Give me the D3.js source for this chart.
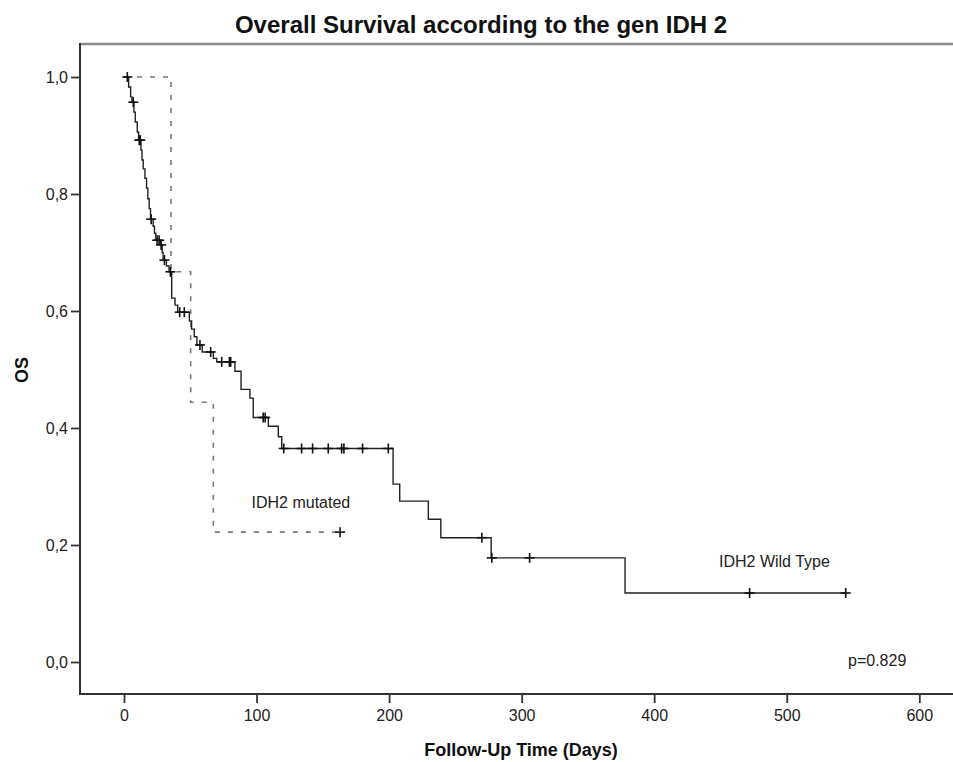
<!DOCTYPE html>
<html>
<head>
<meta charset="utf-8">
<script src="https://cdn.jsdelivr.net/npm/d3@7"></script>
<style>
  html, body { margin: 0; padding: 0; background: #fff; }
  svg { display: block; font-family: "Liberation Sans", Arial, sans-serif; }
</style>
</head>
<body>
<svg id="chart" width="953" height="762"></svg>
<script>
// ---- data ----
const xTicks = [0, 100, 200, 300, 400, 500, 600];
const yTicks = [0, 0.2, 0.4, 0.6, 0.8, 1.0];

// IDH2 Wild Type: step times (days) and survival after each step
const wtTimes = [0, 3.5, 5, 6, 7.5, 8.5, 10, 11, 12.8, 13.6, 14.5, 15.8, 17, 18, 19, 20,
  22, 23, 24, 27.5, 28.8, 29.5, 32, 34, 36, 38.5, 40.5, 49.3, 51, 53, 55, 59, 67.4, 70,
  83.7, 88.3, 95, 97.5, 108.9, 116.4, 119, 203, 208, 229.6, 239, 277, 378, 544.5];
const wtSurv = [1.0, 0.983, 0.966, 0.957, 0.94, 0.923, 0.906, 0.892, 0.875, 0.858, 0.843, 0.827, 0.81, 0.792, 0.775, 0.757,
  0.745, 0.733, 0.721, 0.713, 0.70, 0.687, 0.677, 0.667, 0.622, 0.610, 0.598, 0.583, 0.569, 0.556, 0.542, 0.530, 0.519, 0.513,
  0.497, 0.466, 0.451, 0.418, 0.403, 0.385, 0.365, 0.304, 0.275, 0.244, 0.2125, 0.178, 0.118, 0.118];
const wtCensored = [2.5, 7, 11.5, 12.3, 20.5, 25, 26.5, 28, 30.5, 35, 42, 45.5, 57.3, 65.4,
  73.7, 79.5, 80.5, 105, 106.5, 120.5, 134, 142.3, 154.1, 164.2, 165.9, 180, 199.4,
  270, 277.5, 306, 472, 544.5];

// IDH2 mutated
const mutTimes = [0, 35.5, 50.3, 67.4, 163];
const mutSurv = [1.0, 0.667, 0.444, 0.222, 0.222];
const mutCensored = [163];

const labels = { title: "Overall Survival according to the gen IDH 2",
  xTitle: "Follow-Up Time (Days)", yTitle: "OS",
  mut: "IDH2 mutated", wt: "IDH2 Wild Type", p: "p=0.829" };

// ---- drawing ----
const svg = d3.select("#chart");
const x = d3.scaleLinear().domain([0, 600]).range([124, 919.3]);
const y = d3.scaleLinear().domain([0, 1]).range([662, 77]);

const frameLeft = 80, frameTop = 44, frameBottom = 694, frameRight = 953;

// top frame line
svg.append("line").attr("x1", frameLeft).attr("x2", frameRight)
  .attr("y1", frameTop).attr("y2", frameTop)
  .attr("stroke", "#8a8a8a").attr("stroke-width", 2.5);

// axes
const yAxis = d3.axisLeft(y).tickValues(yTicks).tickSize(9).tickPadding(3)
  .tickFormat(d => d3.format(".1f")(d).replace(".", ","));
const gy = svg.append("g").attr("transform", `translate(${frameLeft},0)`).call(yAxis);
gy.select(".domain").remove();
gy.selectAll(".tick line").attr("stroke", "#333").attr("stroke-width", 1.8);
gy.selectAll(".tick text").attr("font-size", 16).attr("fill", "#222")
  .attr("font-family", "Liberation Sans, Arial, sans-serif");

const xAxis = d3.axisBottom(x).tickValues(xTicks).tickSize(9).tickPadding(7)
  .tickFormat(d3.format("d"));
const gx = svg.append("g").attr("transform", `translate(0,${frameBottom})`).call(xAxis);
gx.select(".domain").remove();
gx.selectAll(".tick line").attr("stroke", "#333").attr("stroke-width", 1.8);
gx.selectAll(".tick text").attr("font-size", 16).attr("fill", "#222")
  .attr("font-family", "Liberation Sans, Arial, sans-serif");

svg.append("line").attr("x1", frameLeft).attr("x2", frameLeft)
  .attr("y1", frameTop - 1).attr("y2", frameBottom + 1)
  .attr("stroke", "#333").attr("stroke-width", 2);
svg.append("line").attr("x1", frameLeft - 1).attr("x2", frameRight)
  .attr("y1", frameBottom).attr("y2", frameBottom)
  .attr("stroke", "#333").attr("stroke-width", 2);

// helpers
function survAt(times, survs, t) {
  const i = d3.bisectRight(times, t) - 1;
  return survs[Math.max(0, i)];
}
const line = d3.line().x(d => x(d[0])).y(d => y(d[1])).curve(d3.curveStepAfter);

// mutated (dashed)
const mutPts = mutTimes.map((t, i) => [t, mutSurv[i]]);
svg.append("path").attr("d", line(mutPts)).attr("fill", "none")
  .attr("stroke", "#7a7a7a").attr("stroke-width", 1.6).attr("stroke-dasharray", "5,8");

// wild type (solid)
const wtPts = wtTimes.map((t, i) => [t, wtSurv[i]]);
svg.append("path").attr("d", line(wtPts)).attr("fill", "none")
  .attr("stroke", "#222").attr("stroke-width", 1.4);

// censor marks
function drawCensor(times, survTimes, survVals) {
  const g = svg.append("g");
  times.forEach(t => {
    const cx = x(t), cy = y(survAt(survTimes, survVals, t));
    g.append("line").attr("x1", cx - 5).attr("x2", cx + 5).attr("y1", cy).attr("y2", cy)
      .attr("stroke", "#111").attr("stroke-width", 1.6);
    g.append("line").attr("x1", cx).attr("x2", cx).attr("y1", cy - 5).attr("y2", cy + 5)
      .attr("stroke", "#111").attr("stroke-width", 1.6);
  });
}
drawCensor(wtCensored, wtTimes, wtSurv);
drawCensor(mutCensored, mutTimes, mutSurv);

// texts
svg.append("text").attr("x", 481).attr("y", 33).attr("text-anchor", "middle")
  .attr("font-size", 24).attr("font-weight", "bold").attr("fill", "#111").text(labels.title);
svg.append("text").attr("x", 521).attr("y", 756).attr("text-anchor", "middle")
  .attr("font-size", 18).attr("font-weight", "bold").attr("fill", "#111").text(labels.xTitle);
svg.append("text").attr("transform", "translate(28,370) rotate(-90)").attr("text-anchor", "middle")
  .attr("font-size", 18).attr("font-weight", "bold").attr("fill", "#111").text(labels.yTitle);
svg.append("text").attr("x", 251.5).attr("y", 508).attr("font-size", 16).attr("fill", "#222").text(labels.mut);
svg.append("text").attr("x", 719).attr("y", 567).attr("font-size", 16).attr("fill", "#222").text(labels.wt);
svg.append("text").attr("x", 848).attr("y", 666).attr("font-size", 16).attr("fill", "#222").text(labels.p);
</script>
</body>
</html>
